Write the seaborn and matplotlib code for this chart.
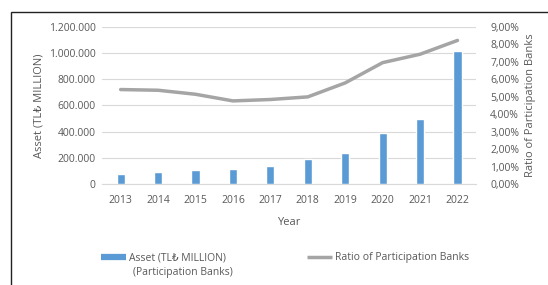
import numpy as np
import pandas as pd
import seaborn as sns
import matplotlib.pyplot as plt
from matplotlib.patches import Rectangle
from matplotlib.lines import Line2D
from matplotlib.ticker import FuncFormatter

sns.set_style('white')
plt.rcParams['font.family'] = ['Open Sans', 'DejaVu Sans']

years = ['2013', '2014', '2015', '2016', '2017', '2018', '2019', '2020', '2021', '2022']
asset = [76000, 92000, 107000, 114000, 140000, 188000, 234000, 391000, 498000, 1015000]
ratio = [5.41, 5.37, 5.14, 4.76, 4.84, 4.99, 5.79, 6.95, 7.43, 8.22]

df = pd.DataFrame({'Year': years, 'Asset': asset, 'Ratio': ratio})

bar_color = '#5B9BD5'
line_color = '#A5A5A5'
txt = '#595959'

fig = plt.figure(figsize=(5.48, 2.85), dpi=100)
ax = fig.add_axes([0.186, 0.354, 0.683, 0.552])

sns.barplot(data=df, x='Year', y='Asset', color=bar_color, width=0.22,
            saturation=1, ax=ax, zorder=3)
ax.set_ylim(0, 1200000)
ax.set_yticks(np.arange(0, 1200001, 200000))
ax.yaxis.set_major_formatter(FuncFormatter(lambda v, p: f'{int(v):,}'.replace(',', '.')))
ax.grid(axis='y', color='#D9D9D9', lw=0.8, zorder=0)
ax.set_axisbelow(True)
for s in ax.spines.values():
    s.set_visible(False)
ax.spines['bottom'].set_visible(True)
ax.spines['bottom'].set_color('#D9D9D9')
ax.set_xlim(-0.5, 9.5)

ax2 = ax.twinx()
ax2.plot(np.arange(len(years)), df['Ratio'], color=line_color, lw=2.5, zorder=4)
ax2.set_ylim(0, 9)
ax2.set_yticks(np.arange(0, 10, 1))
ax2.yaxis.set_major_formatter(FuncFormatter(lambda v, p: f'{v:.2f}%'.replace('.', ',')))
for s in ax2.spines.values():
    s.set_visible(False)
ax2.grid(False)

ax.tick_params(axis='y', length=0, labelsize=7.5, colors=txt, pad=4.5)
ax.tick_params(axis='x', length=0, labelsize=7.5, colors=txt, pad=8)
ax2.tick_params(axis='y', length=0, labelsize=7.5, colors=txt, pad=10)

ax.set_xlabel('Year', fontsize=8, color=txt, labelpad=8)
ax.set_ylabel('Asset (TL₺ MILLION)', fontsize=8, color=txt, labelpad=3)
ax2.set_ylabel('Ratio of Participation Banks', fontsize=8, color=txt, labelpad=4)

leg_kw = dict(loc='upper left', frameon=False, fontsize=7.5, labelcolor=txt,
              handlelength=2.4, handletextpad=0.3, borderpad=0, borderaxespad=0)
fig.legend([Line2D([0], [0], color=bar_color, lw=4.5, solid_capstyle='butt')],
           ['Asset (TL₺ MILLION)'],
           bbox_to_anchor=(0.184, 0.115), **leg_kw)
fig.legend([Line2D([0], [0], color=line_color, lw=2.5, solid_capstyle='butt')],
           ['Ratio of Participation Banks'],
           bbox_to_anchor=(0.560, 0.115), **leg_kw)
fig.text(0.243, 0.045, '(Participation Banks)', fontsize=7.5, color=txt,
         ha='left', va='center')

fig.patches.append(Rectangle((0.02, -0.1), 1.1, 1.058, transform=fig.transFigure,
                             fill=False, edgecolor='#222222', lw=1.0))

fig.savefig('out.png', dpi=100)
